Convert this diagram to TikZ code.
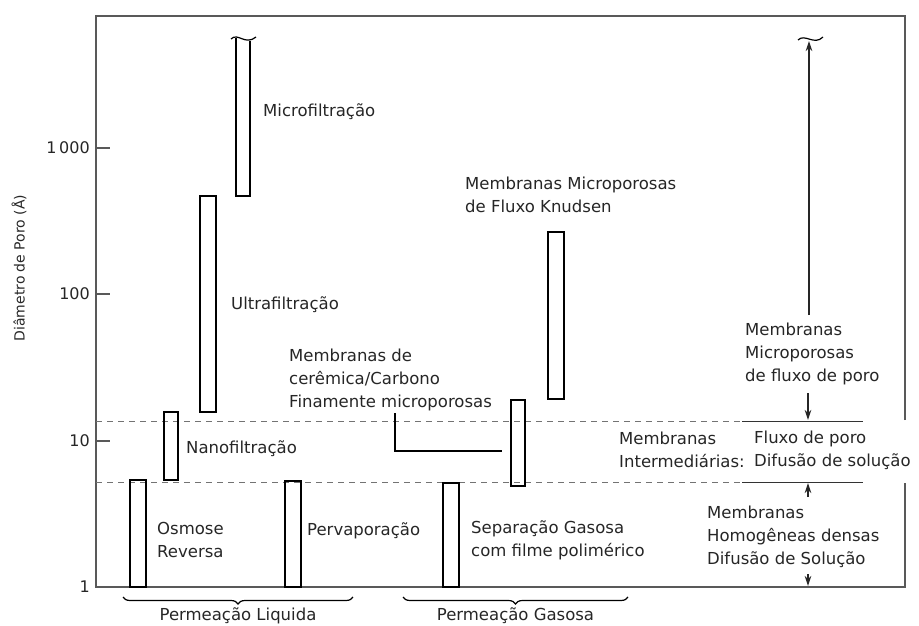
\documentclass[tikz,border=0pt]{standalone}
\usepackage{fontspec}
\setmainfont{DejaVu Sans}
\usetikzlibrary{arrows.meta,decorations.pathreplacing}
\tikzstyle{bar}=[draw=black,line width=1.7pt]
\tikzstyle{rotulo}=[anchor=west,inner sep=0pt,align=left,text=black!85,font=\fontsize{16.5}{23}\selectfont]
\tikzstyle{escala}=[anchor=east,inner sep=0pt,text=black!85,font=\fontsize{16}{18}\selectfont]
\tikzstyle{limite}=[draw=black!55,dash pattern=on 6pt off 5pt,line width=1pt]
\tikzstyle{faixa}=[draw=black!80,line width=1pt]
\tikzstyle{seta}=[draw=black!85,line width=1.1pt,-{Stealth[length=10pt,width=6.5pt]}]
\tikzstyle{chave}=[draw=black,line width=1.2pt,decorate,decoration={brace,mirror,amplitude=7pt}]

\begin{document}
\begin{tikzpicture}[x=1pt,y=-1pt]
				\useasboundingbox (0,0) rectangle (919,626);

				% frame and scale
				\draw[draw=black!65,line width=1.2pt] (905,420) -- (905,16) -- (96,16) -- (96,587) -- (905,587) -- (905,483);
				\foreach \y/\val/\name in {148/1\,000/t3, 294/100/t2, 441/10/t1}
				{
				\draw[draw=black!65,line width=1.2pt] (96,\y) -- (110,\y);
				\node[escala] (\name) at (90,\y) {\val};
				}
				\node[escala] (t0) at (90,587) {1};
				\node[rotulo,anchor=center,rotate=90,font=\fontsize{14}{16}\selectfont] (eixo) at (19,268) {Diâmetro de Poro (Å)};

				% limits between the classes
				\draw[limite] (96,421) -- (742,421);
				\draw[limite] (96,482) -- (742,482);
				\draw[faixa] (742,421) -- (863,421);
				\draw[faixa] (742,482) -- (863,482);

				% First we draw the bars
				\foreach \xa/\xb/\ya/\yb in {200/216/196/412, 164/178/412/480, 130/146/480/587, 285/301/481/587, 443/459/483/587, 511/525/400/486, 548/564/232/399}
				\draw[bar] (\xa,\ya) rectangle (\xb,\yb);
				\draw[bar] (236,38) -- (236,196) -- (250,196) -- (250,41);
				\draw[line width=1.2pt] (231,39) .. controls (238,32) and (245,46) .. (256,37);

				% labels of the bars
				\node[rotulo] (micro) at (263,112) {Microfiltração};
				\node[rotulo] (ultra) at (231,305) {Ultrafiltração};
				\node[rotulo] (nano) at (186,449) {Nanofiltração};
				\node[rotulo] (osmose) at (157,540) {Osmose\\Reversa};
				\node[rotulo] (perva) at (307,531) {Pervaporação};
				\node[rotulo] (ceram) at (289,380) {Membranas de\\cerêmica/Carbono\\Finamente microporosas};
				\node[rotulo] (knudsen) at (465,195) {Membranas Microporosas\\de Fluxo Knudsen};
				\node[rotulo] (gas) at (471,540) {Separação Gasosa\\com filme polimérico};

				% connector from the ceramic label to its bar
				\coordinate (c1) at (395,413);
				\coordinate (c2) at (502,451);
				\draw[line width=1.2pt] (c1) |- (c2);

				% classes on the right
				\node[rotulo] (poroso) at (745,354) {Membranas\\Microporosas\\de fluxo de poro};
				\node[rotulo] (inter) at (619,450) {Membranas\\Intermediárias:};
				\node[rotulo] (fluxo) at (754,450) {Fluxo de poro\\Difusão de solução};
				\node[rotulo] (denso) at (707,537) {Membranas\\Homogêneas densas\\Difusão de Solução};

				\coordinate (s1) at (809,315);
				\coordinate (s2) at (809,41);
				\coordinate (s3) at (808,393);
				\coordinate (s4) at (808,420);
				\coordinate (s5) at (808,497);
				\coordinate (s6) at (808,483);
				\coordinate (s7) at (808,574);
				\coordinate (s8) at (808,586);
				\foreach \source/\dest in {s1/s2, s3/s4, s5/s6, s7/s8}
				\path[seta] (\source) -- (\dest);
				\draw[line width=1.2pt] (798,40) .. controls (805,33) and (814,46) .. (823,37);

				% braces
				\draw[chave] (123,597) -- node[rotulo,anchor=north,below=10pt] (liquida) {Permeação Liquida} (353,597);
				\draw[chave] (403,597) -- node[rotulo,anchor=north,below=10pt] (gasosa) {Permeação Gasosa} (628,597);
			\end{tikzpicture}
\end{document}
